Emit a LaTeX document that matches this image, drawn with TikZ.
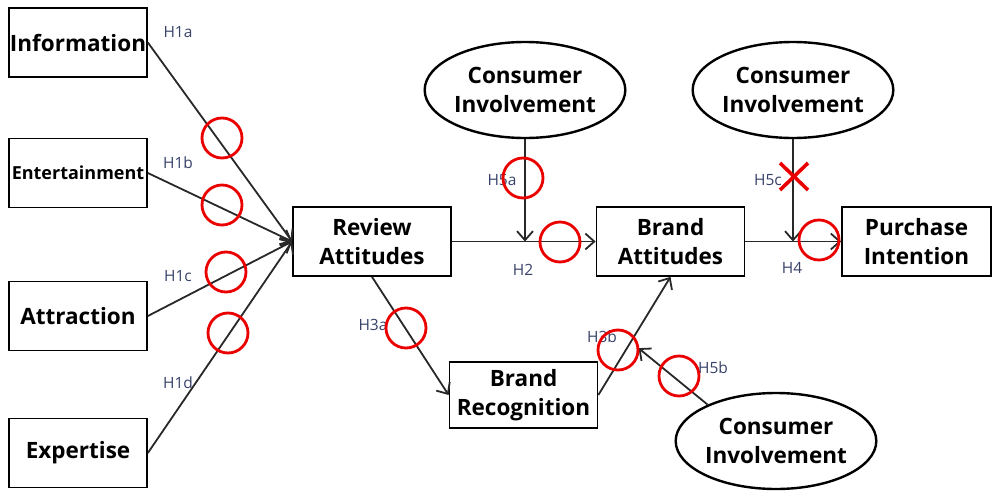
\documentclass[tikz,border=0pt]{standalone}
\usepackage{fontspec}
\setmainfont{Open Sans}
\usepackage{xcolor}
\usepackage{tikz}
\usetikzlibrary{arrows.meta}
\usetikzlibrary{positioning}
\usetikzlibrary{shapes.geometric}
\usetikzlibrary{calc}

\definecolor{linea}{RGB}{40,40,40}
\definecolor{hipcolor}{RGB}{55,65,105}
\definecolor{rojo}{RGB}{235,0,0}

\tikzset{
  caja/.style={draw=black, line width=1.7pt, minimum width=138pt, minimum height=69pt,
    inner sep=0pt, align=center, font=\bfseries\fontsize{22.5}{29}\selectfont},
  elipse/.style={draw=black, ellipse, line width=2.4pt, minimum width=185pt, minimum height=96pt,
    inner sep=0pt, align=center, font=\bfseries\fontsize{22.5}{29}\selectfont},
  flecha/.style={draw=linea, line width=1.8pt, -{Straight Barb[length=9pt,width=16pt]}},
  hip/.style={text=hipcolor, font=\fontsize{15.5}{17}\selectfont, inner sep=0pt},
  marca/.style={draw=rojo, line width=2.8pt}
}

\begin{document}
\begin{tikzpicture}[x=1pt, y=-1pt]
    \useasboundingbox (0,0) rectangle (994,493);

    % Variables (cajas)
    \node[caja] (info) at (78,42.5) {Information};
    \node[caja, font=\bfseries\fontsize{18}{20}\selectfont] (ent) at (78,173) {Entertainment};
    \node[caja] (attr) at (78,316) {Attraction};
    \node[caja] (expe) at (78,453) {Expertise};
    \node[caja, minimum width=158pt] (ratt) at (372,241.5) {Review\\Attitudes};
    \node[caja, minimum width=148pt] (batt) at (670.5,241.5) {Brand\\Attitudes};
    \node[caja, minimum width=148pt, minimum height=66pt] (brec) at (523.5,395) {Brand\\Recognition};
    \node[caja, minimum width=149pt] (pint) at (916.5,241.5) {Purchase\\Intention};

    % Moderadores (elipses)
    \node[elipse] (ci1) at (525,90) {Consumer\\Involvement};
    \node[elipse, minimum width=183pt] (ci2) at (793,90) {Consumer\\Involvement};
    \node[elipse, minimum width=187pt] (ci3) at (776,441) {Consumer\\Involvement};

    % Flechas
    \foreach \src in {info, ent, attr, expe}
        \draw[flecha] (\src.east) -- (ratt.west);
    \draw[flecha] (ratt) -- (batt);
    \draw[flecha] (batt) -- (pint);
    \draw[flecha] (ratt.south) -- (brec.west);
    \draw[flecha] (brec.east) -- (batt.south);
    \draw[flecha] (ci1) -- (ci1 |- ratt.east);
    \draw[flecha] (ci2) -- (ci2 |- batt.east);
    \coordinate (h3bpunto) at ($(brec.east)!0.45!(batt.south)$);
    \draw[flecha, shorten >=10pt] (ci3.152) -- (h3bpunto);

    % Hipotesis
    \node[hip] (h1a) at (178,32) {H1a};
    \node[hip] (h1b) at (178,163) {H1b};
    \node[hip] (h1c) at (178,276) {H1c};
    \node[hip] (h1d) at (178,383) {H1d};
    \node[hip] (h2) at (523,270) {H2};
    \node[hip] (h3a) at (373,325) {H3a};
    \node[hip] (h3b) at (602,337) {H3b};
    \node[hip] (h4) at (792,268) {H4};
    \node[hip] (h5a) at (502,180) {H5a};
    \node[hip] (h5b) at (713,368) {H5b};
    \node[hip] (h5c) at (768,180) {H5c};

    % Circulos rojos (soportadas)
    \foreach \x/\y in {222/138, 222/205, 226/272, 228/333, 523/178, 560/242, 406/328, 618/350, 679/376, 819/240}
        \draw[marca] (\x,\y) circle (20pt);

    % Cruz roja (no soportada)
    \draw[marca, line width=3.6pt] (780,163) -- (808,190) (780,190) -- (808,163);
\end{tikzpicture}
\end{document}
